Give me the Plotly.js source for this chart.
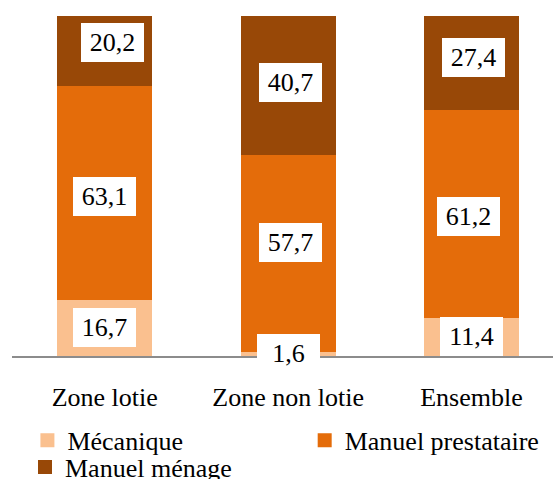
<!DOCTYPE html>
<html>
<head>
<meta charset="utf-8">
<script src="https://cdn.plot.ly/plotly-3.0.1.min.js"></script>
<style>html,body{margin:0;padding:0;background:#fff;}#chart{width:553px;height:479px;}</style>
</head>
<body>
<div id="chart"></div>
<script>
// ---- data ----
const categories = ['Zone lotie', 'Zone non lotie', 'Ensemble'];
const seriesNames = ['Mécanique', 'Manuel prestataire', 'Manuel ménage'];
const mecanique = [16.7, 1.6, 11.4];
const prestataire = [63.1, 57.7, 61.2];
const menage = [20.2, 40.7, 27.4];

// ---- style ----
const colors = ['#FAC08F', '#E46C0A', '#984807'];
const FONT = 'Liberation Serif';
const series = [mecanique, prestataire, menage];
const legendIds = ['legend', 'legend2', 'legend3'];

const traces = series.map((vals, i) => ({
  type: 'bar',
  name: seriesNames[i],
  x: categories,
  y: vals,
  marker: {color: colors[i], line: {color: colors[i], width: 2}},
  legend: legendIds[i],
  hoverinfo: 'none'
}));

// label box nudges (pixels), [series][category]
const xNudge = [[0, 0, 0], [0, 2, -3], [8, 2, 2]];
const yNudge = [[0, 0, 0], [-5, 10, -3], [8, 3, 5]];

const annotations = [];
categories.forEach((c, j) => {
  let base = 0;
  series.forEach((vals, i) => {
    const v = vals[j];
    annotations.push({
      x: c, y: base + v / 2, xref: 'x', yref: 'y',
      text: v.toFixed(1).replace('.', ','),
      showarrow: false,
      font: {family: FONT, size: 26, color: '#000'},
      bgcolor: '#ffffff', borderwidth: 0, borderpad: 4,
      width: 55, height: 31,
      xshift: xNudge[i][j], yshift: yNudge[i][j]
    });
    base += v;
  });
});

const legendBase = {
  orientation: 'v', xanchor: 'left', yanchor: 'middle',
  xref: 'paper', yref: 'paper',
  bgcolor: 'rgba(0,0,0,0)', borderwidth: 0,
  font: {family: FONT, size: 26, color: '#000'}
};

const layout = {
  width: 553, height: 479,
  margin: {l: 12, r: 0, t: 16, b: 123, autoexpand: false},
  paper_bgcolor: '#fff', plot_bgcolor: '#fff',
  font: {family: FONT, color: '#000'},
  barmode: 'stack',
  bargap: 0.493,
  showlegend: true,
  xaxis: {
    type: 'category',
    range: [-0.5055, 2.4444],
    showline: true, linecolor: '#8C8C8C', linewidth: 2,
    ticks: '', showgrid: false, zeroline: false,
    tickfont: {family: FONT, size: 26, color: '#000'},
    ticklabelstandoff: 17
  },
  yaxis: {
    range: [0, 100], visible: false, showgrid: false, zeroline: false, fixedrange: true
  },
  legend: Object.assign({}, legendBase, {x: 0.0285, y: -0.248}),
  legend2: Object.assign({}, legendBase, {x: 0.5410, y: -0.248}),
  legend3: Object.assign({}, legendBase, {x: 0.0240, y: -0.327}),
  annotations: annotations
};

Plotly.newPlot('chart', traces, layout, {displayModeBar: false, staticPlot: true});
</script>
</body>
</html>
